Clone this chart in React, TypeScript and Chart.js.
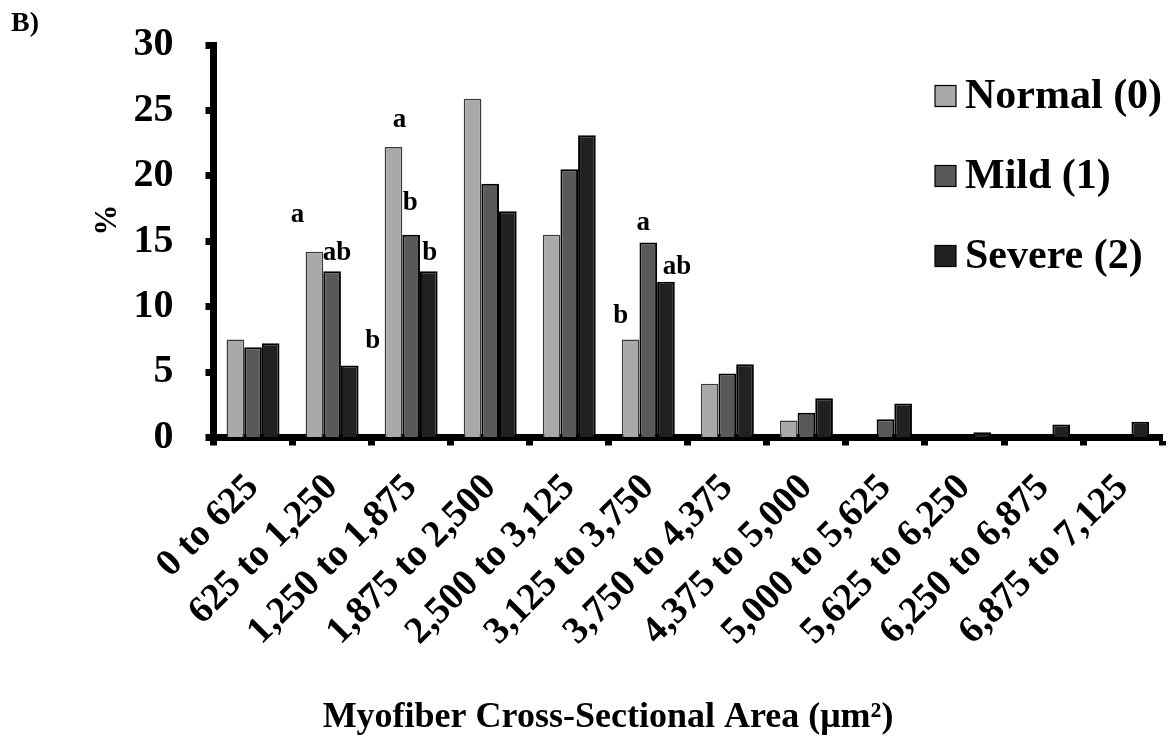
import React, { useEffect, useRef } from "react";
import { Chart, registerables } from "chart.js";

Chart.register(...registerables);

// Fiber area bins (µm²)
const categories = [
  "0 to 625",
  "625 to 1,250",
  "1,250 to 1,875",
  "1,875 to 2,500",
  "2,500 to 3,125",
  "3,125 to 3,750",
  "3,750 to 4,375",
  "4,375 to 5,000",
  "5,000 to 5,625",
  "5,625 to 6,250",
  "6,250 to 6,875",
  "6,875 to 7,125",
];

const seriesNames = ["Normal (0)", "Mild (1)", "Severe (2)"];

// Percent of fibers per bin
const normalValues = [7.5, 14.2, 22.2, 25.9, 15.5, 7.5, 4.1, 1.3, 0, 0, 0, 0];
const mildValues = [6.9, 12.7, 15.5, 19.4, 20.5, 14.9, 4.9, 1.9, 1.4, 0, 0, 0];
const severeValues = [7.2, 5.5, 12.7, 17.3, 23.1, 11.9, 5.6, 3.0, 2.6, 0.4, 1.0, 1.2];

const yTickValues = [0, 5, 10, 15, 20, 25, 30];

// Significance letters per series and bin
const normalLetters = ["", "a", "a", "", "", "b", "", "", "", "", "", ""];
const mildLetters = ["", "ab", "b", "", "", "a", "", "", "", "", "", ""];
const severeLetters = ["", "b", "b", "", "", "ab", "", "", "", "", "", ""];

const seriesColors = ["#a9a9a9", "#595959", "#212121"];
const seriesBorders = ["#3a3a3a", "#000000", "#000000"];

// Letter placement relative to the top centre of its bar: "dataset-bin": [dx, dy]
const letterOffsets: Record<string, [number, number]> = {
  "0-1": [-17, -30],
  "1-1": [5, -11],
  "2-1": [23, -18],
  "0-2": [6, -20],
  "1-2": [-1, -25],
  "2-2": [1, -11],
  "0-5": [-10, -16],
  "1-5": [-5, -13],
  "2-5": [11, -8],
};

const FONT = "'Liberation Serif', 'Times New Roman', Times, serif";
const WIDTH = 1175;
const HEIGHT = 755;
const AREA_LEFT = 213.5;
const AREA_TOP = 45;
const AREA_BOTTOM = 437.5;

const decorations = {
  id: "decorations",
  afterDatasetsDraw(chart: any) {
    const ctx = chart.ctx;
    const letterSets = [normalLetters, mildLetters, severeLetters];
    ctx.save();
    ctx.fillStyle = "#000";
    ctx.font = `bold 27px ${FONT}`;
    ctx.textAlign = "center";
    ctx.textBaseline = "alphabetic";
    letterSets.forEach((letters, d) => {
      const meta = chart.getDatasetMeta(d);
      letters.forEach((txt, i) => {
        if (!txt) return;
        const bar = meta.data[i];
        const off = letterOffsets[`${d}-${i}`] || [0, -8];
        ctx.fillText(txt, bar.x + off[0], bar.y + off[1]);
      });
    });
    ctx.restore();
  },
  afterDraw(chart: any) {
    const ctx = chart.ctx;
    ctx.save();
    ctx.fillStyle = "#000";

    // panel tag
    ctx.font = `bold 28px ${FONT}`;
    ctx.textAlign = "left";
    ctx.textBaseline = "alphabetic";
    ctx.fillText("B)", 11, 31);

    // y-axis title
    ctx.save();
    ctx.translate(108, 220);
    ctx.rotate(-Math.PI / 2);
    ctx.font = `bold 31px ${FONT}`;
    ctx.textAlign = "center";
    ctx.textBaseline = "middle";
    ctx.fillText("%", 0, 0);
    ctx.restore();

    // x-axis title
    ctx.font = `bold 36px ${FONT}`;
    ctx.textAlign = "center";
    ctx.textBaseline = "middle";
    ctx.fillText("Myofiber Cross-Sectional Area (\u03bcm\u00b2)", 608, 718);

    // legend
    const rows = [96, 176, 256];
    chart.data.datasets.forEach((ds: any, d: number) => {
      const cy = rows[d];
      ctx.fillStyle = ds.backgroundColor;
      ctx.fillRect(935, cy - 10.5, 21, 21);
      ctx.strokeStyle = "#000";
      ctx.lineWidth = 1.2;
      ctx.strokeRect(935, cy - 10.5, 21, 21);
      ctx.fillStyle = "#000";
      ctx.font = `bold 42px ${FONT}`;
      ctx.textAlign = "left";
      ctx.textBaseline = "middle";
      ctx.fillText(ds.label, 965, cy + 1);
    });
    ctx.restore();
  },
};

export default function App() {
  const canvasRef = useRef<HTMLCanvasElement>(null);

  useEffect(() => {
    document.body.style.margin = "0";
    const canvas = canvasRef.current;
    if (!canvas) return;
    const values = [normalValues, mildValues, severeValues];
    const chart = new Chart(canvas, {
      type: "bar",
      data: {
        labels: categories,
        datasets: values.map((v, d) => ({
          label: seriesNames[d],
          data: v,
          backgroundColor: seriesColors[d],
          borderColor: seriesBorders[d],
          borderWidth: d === 0 ? 1.5 : 2,
          categoryPercentage: 0.67,
          barPercentage: 1,
        })),
      },
      options: {
        responsive: false,
        animation: false,
        devicePixelRatio: 1,
        layout: { padding: { top: AREA_TOP, right: 3, left: 0, bottom: 0 } },
        plugins: {
          legend: { display: false },
          tooltip: { enabled: false },
        },
        scales: {
          x: {
            grid: {
              display: true,
              drawOnChartArea: false,
              drawTicks: true,
              tickLength: 8,
              tickWidth: 7,
              tickColor: "#000",
              offset: true,
            },
            border: { display: true, width: 7, color: "#000" },
            ticks: {
              autoSkip: false,
              minRotation: 45,
              maxRotation: 45,
              padding: 20,
              color: "#000",
              font: { family: FONT, size: 38, weight: "bold" },
            },
            afterFit(scale: any) {
              scale.height = HEIGHT - AREA_BOTTOM;
            },
          },
          y: {
            min: 0,
            max: 30,
            grid: {
              display: true,
              drawOnChartArea: false,
              drawTicks: true,
              tickLength: 8,
              tickWidth: 7,
              tickColor: "#000",
            },
            border: { display: true, width: 7, color: "#000" },
            ticks: {
              padding: 32,
              color: "#000",
              font: { family: FONT, size: 40, weight: "bold" },
            },
            afterBuildTicks(scale: any) {
              scale.ticks = yTickValues.map((v) => ({ value: v }));
            },
            afterFit(scale: any) {
              scale.width = AREA_LEFT;
              scale.paddingTop = 0;
              scale.paddingBottom = 0;
            },
          },
        },
      },
      plugins: [decorations],
    });
    return () => chart.destroy();
  }, []);

  return (
    <canvas
      ref={canvasRef}
      width={WIDTH}
      height={HEIGHT}
      style={{ display: "block", width: WIDTH, height: HEIGHT }}
    />
  );
}
